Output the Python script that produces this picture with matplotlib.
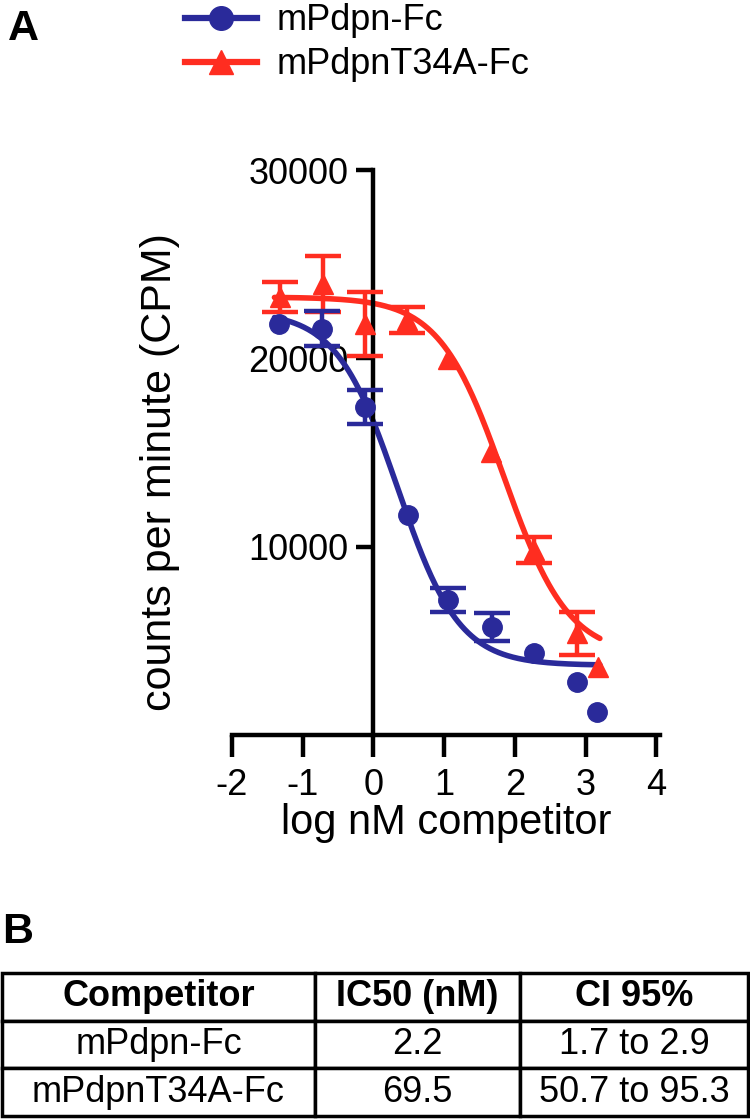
import numpy as np
import matplotlib
matplotlib.use("Agg")
import matplotlib.pyplot as plt

plt.rcParams['font.family'] = ['Liberation Sans', 'DejaVu Sans']
plt.rcParams['axes.unicode_minus'] = False

# mPdpn-Fc (circles)
wt_x = [-1.34, -0.73, -0.12, 0.49, 1.06, 1.68, 2.27, 2.87, 3.16]
wt_y = [21840, 21580, 17420, 11670, 7160, 5750, 4330, 2830, 1240]
wt_err = [0, 950, 900, 0, 650, 750, 0, 0, 0]

# mPdpnT34A-Fc (triangles)
mut_x = [-1.32, -0.72, -0.12, 0.48, 1.05, 1.66, 2.27, 2.87, 3.18]
mut_y = [23250, 23960, 21840, 22020, 19950, 15030, 9810, 5390, 3620]
mut_err = [800, 1500, 1700, 700, 0, 0, 700, 1150, 0]

# fitted one-site competition curves: top, bottom, logIC50, hill
wt_fit = (22500, 3700, np.log10(2.2), 1.0)
mut_fit = (23250, 4200, np.log10(69.5), 0.95)

table_cols = ["Competitor", "IC50 (nM)", "CI 95%"]
table_rows = [["mPdpn-Fc", "2.2", "1.7 to 2.9"],
              ["mPdpnT34A-Fc", "69.5", "50.7 to 95.3"]]

blue = "#2A2A9A"
red = "#FF2D20"


def curve(x, top, bottom, logic50, hill):
    return bottom + (top - bottom) / (1 + 10 ** ((x - logic50) * hill))


def draw_series(ax, x, y, err, marker, color, z):
    x, y, err = np.array(x), np.array(y), np.array(err)
    m = err > 0
    ax.errorbar(x[m], y[m], yerr=err[m], fmt='none', ecolor=color,
                elinewidth=3.2, capsize=13, capthick=3.2, zorder=z)
    ax.plot(x, y, linestyle='none', marker=marker, color=color, ms=14, zorder=z)


fig = plt.figure(figsize=(7.5, 11.2), dpi=100)
ax = fig.add_axes([232 / 750, 1 - 735 / 1120, (660 - 232) / 750, (735 - 170) / 1120])

xx = np.linspace(-1.4, 3.2, 300)
ax.plot(xx, curve(xx, *wt_fit), color=blue, lw=4, solid_capstyle='round', zorder=2)
ax.plot(xx, curve(xx, *mut_fit), color=red, lw=4, solid_capstyle='round', zorder=2)

draw_series(ax, mut_x, mut_y, mut_err, '^', red, 3)
draw_series(ax, wt_x, wt_y, wt_err, 'o', blue, 4)

ax.set_xlim(-2, 4.05)
ax.set_ylim(0, 30000)
ax.set_xticks([-2, -1, 0, 1, 2, 3, 4])
ax.set_yticks([10000, 20000, 30000])
ax.spines['left'].set_position(('data', 0))
ax.spines['left'].set_bounds(0, 30000)
ax.spines['right'].set_visible(False)
ax.spines['top'].set_visible(False)
for s in ['left', 'bottom']:
    ax.spines[s].set_linewidth(3.2)
ax.tick_params(axis='x', length=16, width=3.2, labelsize=26, pad=8)
ax.tick_params(axis='y', length=12, width=3.2, labelsize=26, pad=6)

ax.set_xlabel("log nM competitor", fontsize=30, labelpad=0)
fig.text(160 / 750, 1 - 472 / 1120, "counts per minute (CPM)", fontsize=31,
         rotation=90, ha='center', va='center')

handles = [
    matplotlib.lines.Line2D([], [], color=blue, lw=4.5, marker='o', ms=17),
    matplotlib.lines.Line2D([], [], color=red, lw=4.5, marker='^', ms=17),
]
fig.legend(handles, ["mPdpn-Fc", "mPdpnT34A-Fc"], loc='upper left',
           bbox_to_anchor=(185 / 750, 0.997), frameon=False, fontsize=26,
           handlelength=2.0, handletextpad=0.55, labelspacing=0.25,
           borderpad=0, borderaxespad=0)

fig.text(8 / 750, 1 - 40 / 1120, "A", fontsize=31, fontweight='bold')
fig.text(2 / 750, 1 - 943 / 1120, "B", fontsize=31, fontweight='bold')

# table
tax = fig.add_axes([2 / 750, 1 - 1116 / 1120, 746 / 750, (1116 - 973) / 1120])
tax.axis('off')
tbl = tax.table(cellText=table_rows, colLabels=table_cols, cellLoc='center',
                colWidths=[313, 205, 228], bbox=[0, 0, 1, 1])
tbl.auto_set_font_size(False)
for (r, c), cell in tbl.get_celld().items():
    cell.set_linewidth(2.5)
    cell.get_text().set_fontsize(26)
    if r == 0:
        cell.get_text().set_fontweight('bold')

fig.savefig("out.png", dpi=100)
